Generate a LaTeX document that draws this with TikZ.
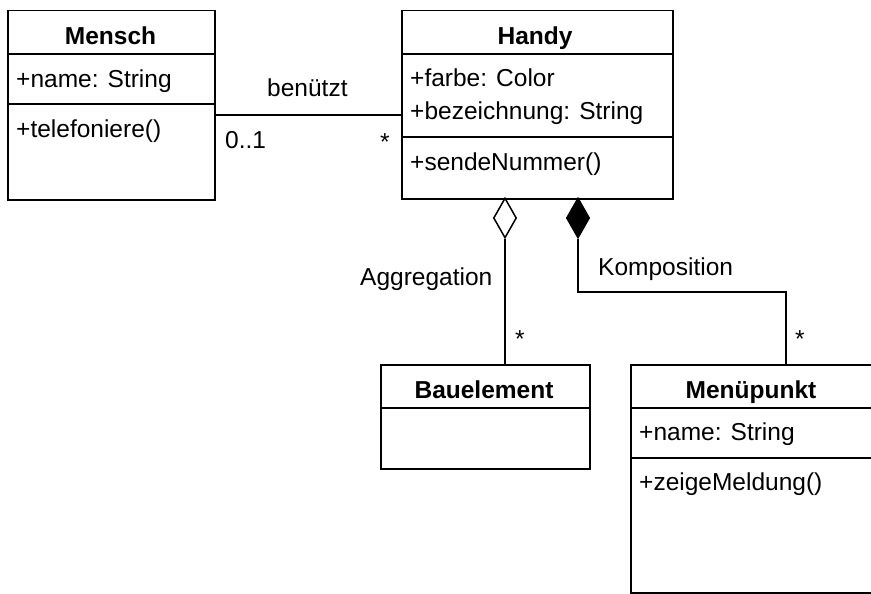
\documentclass[tikz,border=0pt]{standalone}
\usepackage{fontspec}
\setmainfont{Liberation Sans}
\usetikzlibrary{shapes.geometric}
\begin{document}
\begin{tikzpicture}[x=1pt,y=-1pt,
  every node/.style={font=\fontsize{24.5}{29}\selectfont},
  classbox/.style={draw, line width=1.5pt, inner sep=0, anchor=north west},
  txt/.style={inner sep=0, anchor=base west},
  ctitle/.style={inner sep=0, anchor=base, font=\fontsize{24.5}{29}\selectfont\bfseries},
  mult/.style={inner sep=0, anchor=base},
  conn/.style={line width=1.5pt},
  dia/.style={shape=diamond, draw, line width=1.5pt, inner sep=0, minimum width=23pt, minimum height=40pt}]
\useasboundingbox (0,0) rectangle (871,594);
\clip (0,0) rectangle (871,594);
\fill[white] (0,0) rectangle (871,594);

% Mensch
\node[classbox, minimum width=207pt, minimum height=189pt] (mensch) at (7,10) {};
\draw[conn] (7,54) -- (214,54);
\draw[conn] (7,104) -- (214,104);
\node[ctitle] (menscht) at (110.5,45) {Mensch};
\node[txt] (menscha) at (16,88) {+name: String};
\node[txt] (menschm) at (16,138) {+telefoniere()};

% Handy
\node[classbox, minimum width=271pt, minimum height=188pt] (handy) at (401,10) {};
\draw[conn] (401,54) -- (672,54);
\draw[conn] (401,137) -- (672,137);
\node[ctitle] (handyt) at (535,45) {Handy};
\node[txt] (handya1) at (410,87) {+farbe: Color};
\node[txt] (handya2) at (410,119) {+bezeichnung: String};
\node[txt] (handym) at (410,170) {+sendeNummer()};

% Bauelement
\node[classbox, minimum width=209pt, minimum height=104pt] (bau) at (380,364) {};
\draw[conn] (380,408) -- (589,408);
\node[ctitle] (baut) at (484,398) {Bauelement};

% Menuepunkt
\node[classbox, minimum width=243pt, minimum height=228pt] (menu) at (630,364) {};
\draw[conn] (630,408) -- (873,408);
\draw[conn] (630,458) -- (873,458);
\node[ctitle] (menut) at (751,398) {Menüpunkt};
\node[txt] (menua) at (639,440) {+name: String};
\node[txt] (menum) at (639,490) {+zeigeMeldung()};

% association
\coordinate (assocy) at (0,115);
\draw[conn] (mensch.east |- assocy) -- (handy.west |- assocy);
\node[txt] (lbenuetzt) at (267,97) {benützt};
\node[txt] (lnull) at (225,148) {0..1};
\node[mult] (lstar1) at (385,150) {*};

% aggregation
\node[dia, fill=white] (agg) at (505,218) {};
\draw[conn] (agg.south) -- (agg.south |- bau.north);
\node[txt] (lagg) at (360,285) {Aggregation};
\node[mult] (lstar2) at (520,347) {*};

% composition
\node[dia, fill=black] (comp) at (578,218) {};
\coordinate (knee) at (786,292);
\draw[conn] (comp.south) |- (knee) -- (knee |- menu.north);
\node[txt] (lkomp) at (598,275) {Komposition};
\node[mult] (lstar3) at (800,347) {*};
\end{tikzpicture}
\end{document}
